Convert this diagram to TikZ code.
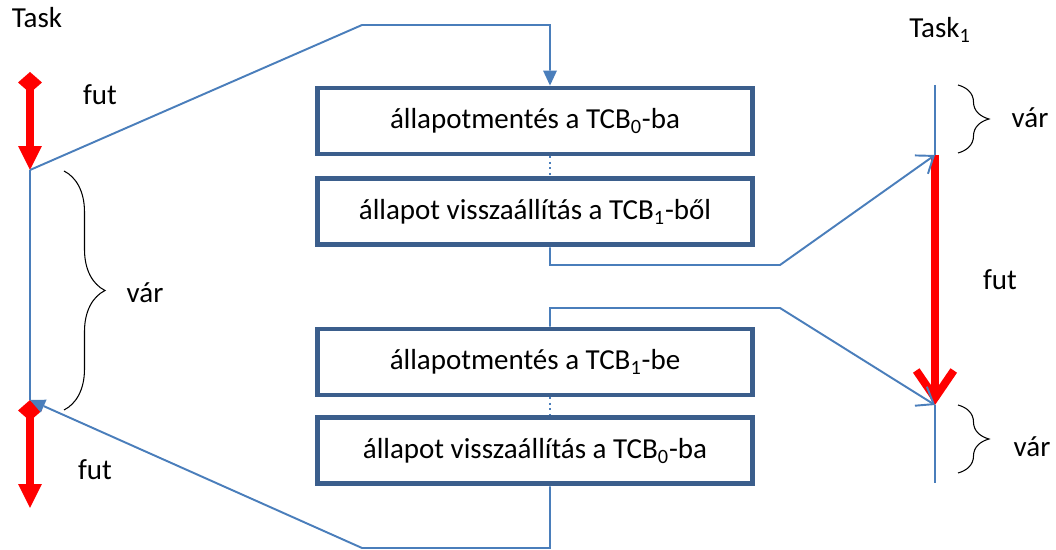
\documentclass[tikz,border=0pt]{standalone}
\usepackage{fontspec}
\setmainfont{Carlito}
\usetikzlibrary{arrows.meta,positioning,decorations.pathreplacing}
\definecolor{BoxBlue}{HTML}{3B5E8C}
\definecolor{LineBlue}{HTML}{4A7EBB}
\definecolor{RunRed}{HTML}{FF0000}

\begin{document}
\begin{tikzpicture}[
  x=0.02cm,y=-0.02cm,
  font=\fontsize{16.5}{19}\selectfont,
  box/.style={draw=BoxBlue,line width=2.8pt,minimum width=8.7cm,minimum height=1.32cm,inner sep=0pt,align=center},
  link/.style={draw=LineBlue,line width=1.1pt},
  wait/.style={draw=LineBlue,line width=0.85pt},
  run/.style={draw=RunRed,line width=4.5pt},
  runarr/.style={run,{Diamond[length=0.42cm,width=0.48cm,line width=0pt]}-{Triangle[length=0.48cm,width=0.48cm,line width=0pt]}},
  brc/.style={decorate,draw=black,line width=0.6pt,decoration={brace,amplitude=#1}},
  tri/.style={-{Triangle[length=0.3cm,width=0.28cm,line width=0pt]}},
  barb/.style={-{Straight Barb[length=0.3cm,width=0.45cm]}}
]
\useasboundingbox (0,0) rectangle (1056,550);
% Task timeline
\coordinate (a0) at (30,72);
\coordinate (a1) at (30,170);
\coordinate (a2) at (30,400);
\coordinate (a3) at (30,508);
\draw[wait] (a1) -- (a2);
\draw[runarr] (a0) -- (a1);
\draw[runarr] (a2) -- (a3);
\node (task0) at (37,18) {Task};
\node (fut0) at (100,95) {fut};
\node (fut1) at (95,470) {fut};
\draw[brc=0.82cm] (64,171) -- (64,410);
\node (var0) at (145,293) {vár};
% Task_1 timeline
\coordinate (b0) at (935,85);
\coordinate (b1) at (935,155);
\coordinate (b2) at (935,405);
\coordinate (b3) at (935,483);
\draw[wait] (b0) -- (b1);
\draw[wait] (b2) -- (b3);
\draw[run,-{Straight Barb[length=0.55cm,width=0.75cm]}] (b1) -- (b2);
\node (task1) at (940,30) {Task\textsubscript{1}};
\node (fut2) at (1000,280) {fut};
\draw[brc=0.62cm] (958,85) -- (958,153);
\draw[brc=0.62cm] (958,405) -- (958,473);
\node (var1) at (1030,118) {vár};
\node (var2) at (1032,447) {vár};
% switching steps
\node[box] (save0) at (535,121) {állapotmentés a TCB\textsubscript{0}-ba};
\node[box,below=0.4cm of save0] (load1) {állapot visszaállítás a TCB\textsubscript{1}-ből};
\node[box] (save1) at (535,362) {állapotmentés a TCB\textsubscript{1}-be};
\node[box,below=0.36cm of save1] (load0) {állapot visszaállítás a TCB\textsubscript{0}-ba};
\coordinate (col) at (550,0);
\draw[link,tri] (a1) -- (362,25) -| (save0.north -| col);
\draw[link,dotted] (save0.south -| col) -- (load1.north -| col);
\draw[link,barb] (load1.south -| col) |- (780,265) -- (b1);
\draw[link,barb] (save1.north -| col) |- (780,308) -- (b2);
\draw[link,dotted] (save1.south -| col) -- (load0.north -| col);
\draw[link,tri] (load0.south -| col) |- (362,548) -- (a2);
\end{tikzpicture}
\end{document}
